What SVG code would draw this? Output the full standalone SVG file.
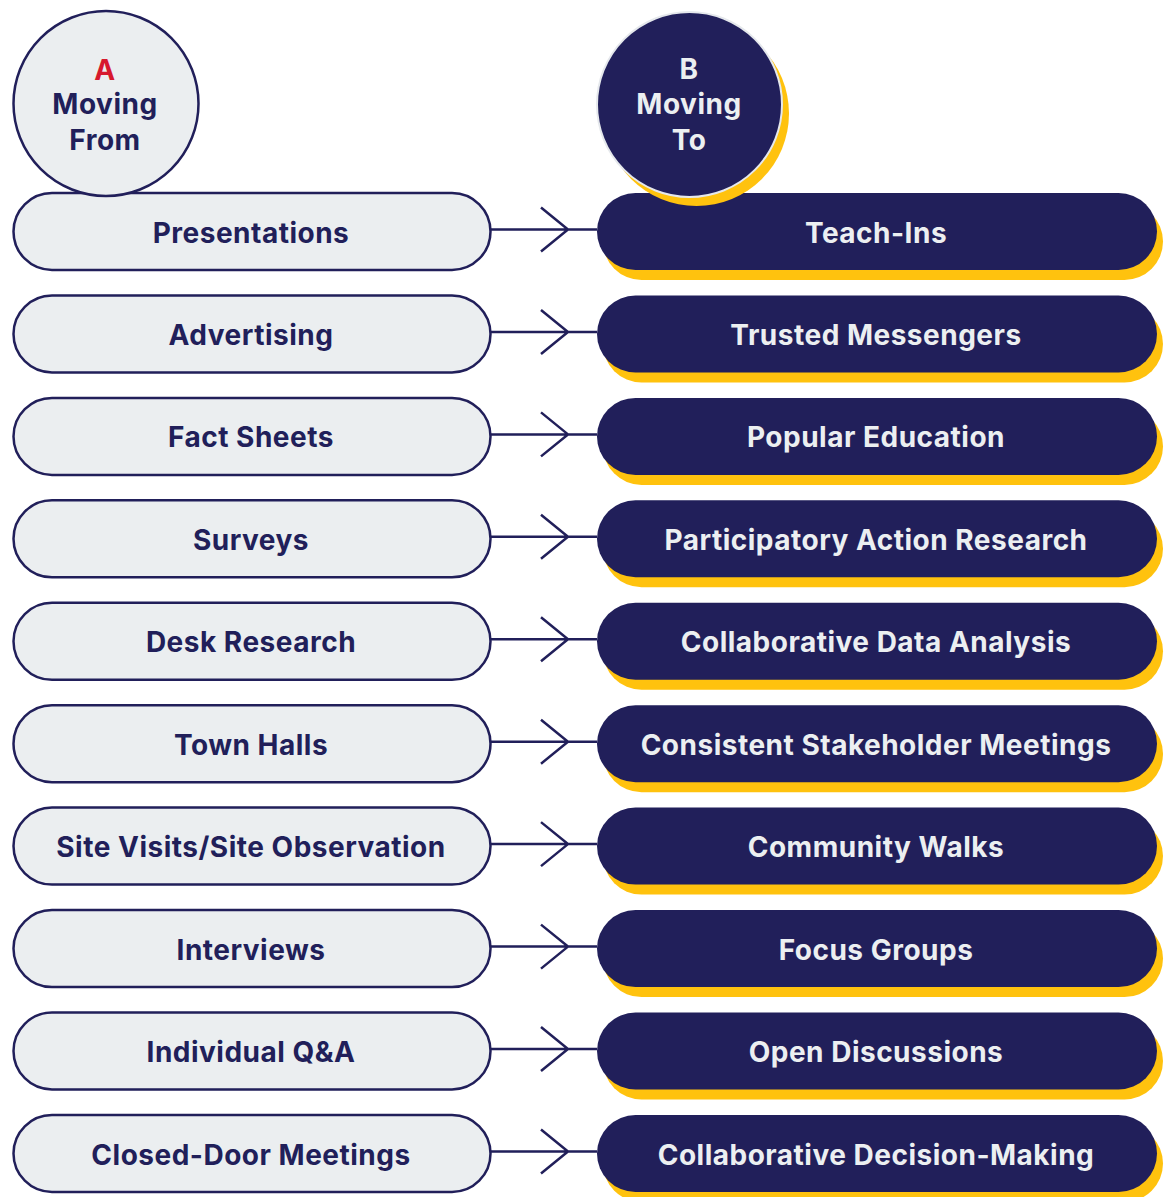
<svg xmlns="http://www.w3.org/2000/svg" width="1171" height="1197" viewBox="0 0 1171 1197">
<style>
.from rect{fill:#ebeef0;stroke:#211f5a;stroke-width:2.5}
.to .sh{fill:#ffc20e}
.to .bg{fill:#211f5a}
.lt{font-family:Inter,"Liberation Sans",sans-serif;font-weight:700;font-size:28px;letter-spacing:0.5px;fill:#211f5a;text-anchor:middle}
.dt{font-family:Inter,"Liberation Sans",sans-serif;font-weight:700;font-size:28px;letter-spacing:0.5px;fill:#eceff1;text-anchor:middle}
#connectors path{fill:none;stroke:#211f5a;stroke-width:2.5}
</style>
<g id="connectors">
<path d="M491 229.5H597M541 207.5L568 229.5L541 251.5"/>
<path d="M491 332H597M541 310L568 332L541 354"/>
<path d="M491 434.4H597M541 412.4L568 434.4L541 456.4"/>
<path d="M491 536.8H597M541 514.8L568 536.8L541 558.8"/>
<path d="M491 639.3H597M541 617.3L568 639.3L541 661.3"/>
<path d="M491 741.7H597M541 719.7L568 741.7L541 763.7"/>
<path d="M491 844.1H597M541 822.1L568 844.1L541 866.1"/>
<path d="M491 946.6H597M541 924.6L568 946.6L541 968.6"/>
<path d="M491 1049H597M541 1027L568 1049L541 1071"/>
<path d="M491 1151.5H597M541 1129.5L568 1151.5L541 1173.5"/>
</g>
<g id="from-nodes" class="from">
<g id="from-1"><rect x="13.5" y="193" width="477" height="77" rx="38.5"/><text class="lt" x="251" y="242.5">Presentations</text></g>
<g id="from-2"><rect x="13.5" y="295.5" width="477" height="77" rx="38.5"/><text class="lt" x="251" y="345">Advertising</text></g>
<g id="from-3"><rect x="13.5" y="397.9" width="477" height="77" rx="38.5"/><text class="lt" x="251" y="447.4">Fact Sheets</text></g>
<g id="from-4"><rect x="13.5" y="500.3" width="477" height="77" rx="38.5"/><text class="lt" x="251" y="549.8">Surveys</text></g>
<g id="from-5"><rect x="13.5" y="602.8" width="477" height="77" rx="38.5"/><text class="lt" x="251" y="652.3">Desk Research</text></g>
<g id="from-6"><rect x="13.5" y="705.2" width="477" height="77" rx="38.5"/><text class="lt" x="251" y="754.7">Town Halls</text></g>
<g id="from-7"><rect x="13.5" y="807.6" width="477" height="77" rx="38.5"/><text class="lt" x="251" y="857.1">Site Visits/Site Observation</text></g>
<g id="from-8"><rect x="13.5" y="910.1" width="477" height="77" rx="38.5"/><text class="lt" x="251" y="959.6">Interviews</text></g>
<g id="from-9"><rect x="13.5" y="1012.5" width="477" height="77" rx="38.5"/><text class="lt" x="251" y="1062">Individual Q&amp;A</text></g>
<g id="from-10"><rect x="13.5" y="1115" width="477" height="77" rx="38.5"/><text class="lt" x="251" y="1164.5">Closed-Door Meetings</text></g>
</g>
<g id="to-nodes" class="to">
<g id="to-1"><rect class="sh" x="603" y="203" width="560" height="77" rx="38.5"/><rect class="bg" x="597" y="193" width="560" height="77" rx="38.5"/><text class="dt" x="876" y="242.5">Teach-Ins</text></g>
<g id="to-2"><rect class="sh" x="603" y="305.5" width="560" height="77" rx="38.5"/><rect class="bg" x="597" y="295.5" width="560" height="77" rx="38.5"/><text class="dt" x="876" y="345">Trusted Messengers</text></g>
<g id="to-3"><rect class="sh" x="603" y="407.9" width="560" height="77" rx="38.5"/><rect class="bg" x="597" y="397.9" width="560" height="77" rx="38.5"/><text class="dt" x="876" y="447.4">Popular Education</text></g>
<g id="to-4"><rect class="sh" x="603" y="510.3" width="560" height="77" rx="38.5"/><rect class="bg" x="597" y="500.3" width="560" height="77" rx="38.5"/><text class="dt" x="876" y="549.8">Participatory Action Research</text></g>
<g id="to-5"><rect class="sh" x="603" y="612.8" width="560" height="77" rx="38.5"/><rect class="bg" x="597" y="602.8" width="560" height="77" rx="38.5"/><text class="dt" x="876" y="652.3">Collaborative Data Analysis</text></g>
<g id="to-6"><rect class="sh" x="603" y="715.2" width="560" height="77" rx="38.5"/><rect class="bg" x="597" y="705.2" width="560" height="77" rx="38.5"/><text class="dt" x="876" y="754.7">Consistent Stakeholder Meetings</text></g>
<g id="to-7"><rect class="sh" x="603" y="817.6" width="560" height="77" rx="38.5"/><rect class="bg" x="597" y="807.6" width="560" height="77" rx="38.5"/><text class="dt" x="876" y="857.1">Community Walks</text></g>
<g id="to-8"><rect class="sh" x="603" y="920.1" width="560" height="77" rx="38.5"/><rect class="bg" x="597" y="910.1" width="560" height="77" rx="38.5"/><text class="dt" x="876" y="959.6">Focus Groups</text></g>
<g id="to-9"><rect class="sh" x="603" y="1022.5" width="560" height="77" rx="38.5"/><rect class="bg" x="597" y="1012.5" width="560" height="77" rx="38.5"/><text class="dt" x="876" y="1062">Open Discussions</text></g>
<g id="to-10"><rect class="sh" x="603" y="1125" width="560" height="77" rx="38.5"/><rect class="bg" x="597" y="1115" width="560" height="77" rx="38.5"/><text class="dt" x="876" y="1164.5">Collaborative Decision-Making</text></g>
</g>
<g id="header-a">
<circle cx="106" cy="103.5" r="92.5" fill="#ebeef0" stroke="#211f5a" stroke-width="2.5"/>
<text class="lt" x="105" y="79.5" style="fill:#d7192d">A</text>
<text class="lt" x="105" y="114">Moving</text>
<text class="lt" x="105" y="150">From</text>
</g>
<g id="header-b">
<circle cx="696.5" cy="113.5" r="92.5" fill="#ffc20e"/>
<circle cx="689.5" cy="104.5" r="92.5" fill="#211f5a" stroke="#e5e8ec" stroke-width="2"/>
<text class="dt" x="689" y="79">B</text>
<text class="dt" x="689" y="114">Moving</text>
<text class="dt" x="689" y="150">To</text>
</g>
</svg>
